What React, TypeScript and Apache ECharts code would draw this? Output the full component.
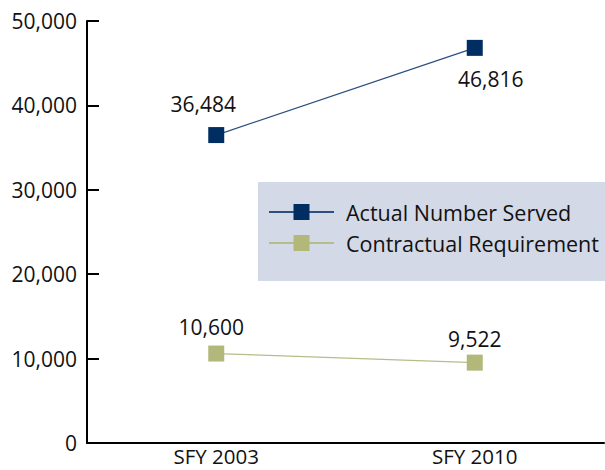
import React, { useEffect, useRef } from "react";
import * as echarts from "echarts";

const categories = ["SFY 2003", "SFY 2010"];
const actualServed = [36484, 46816];
const contractual = [10600, 9522];
const seriesNames = ["Actual Number Served", "Contractual Requirement"];
const yTicks = [0, 10000, 20000, 30000, 40000, 50000];

// label placement (styling, not data)
const actualLabelOffsets = [[-13, -31], [16, 31]];
const contractLabelOffsets = [[-5, -27], [0, -24]];

const FONT = "'Open Sans', 'Noto Sans', sans-serif";
const fmt = (v: number) => v.toLocaleString("en-US");

export default function App() {
  const ref = useRef<HTMLDivElement>(null);
  useEffect(() => {
    if (!ref.current) return;
    const chart = echarts.init(ref.current, undefined, { renderer: "svg" });
    const mk = (vals: number[], offs: number[][]) =>
      vals.map((v, i) => ({
        value: v,
        label: { offset: offs[i] },
      }));
    const labelStyle = {
      show: true,
      position: "inside",
      fontFamily: FONT,
      fontSize: 21,
      color: "#111",
      formatter: (p: any) => fmt(p.value),
    };
    chart.setOption({
      animation: false,
      textStyle: { fontFamily: FONT },
      grid: { left: 87, right: 1, top: 21, bottom: 27, containLabel: false },
      graphic: [
        {
          type: "rect",
          left: 258,
          top: 182,
          shape: { width: 347, height: 99 },
          style: { fill: "#d3d9e6" },
          z: 0,
          silent: true,
        },
      ],
      legend: {
        orient: "vertical",
        left: 268,
        top: 201,
        padding: 0,
        itemWidth: 65,
        itemHeight: 20,
        itemGap: 9,
        textStyle: {
          fontFamily: FONT,
          fontSize: 21.5,
          color: "#111",
          lineHeight: 22,
          padding: [0, 0, 0, 7],
        },
        data: seriesNames,
        z: 5,
      },
      xAxis: {
        type: "category",
        data: categories,
        boundaryGap: true,
        axisLine: { lineStyle: { color: "#000", width: 2 } },
        axisTick: { inside: true, length: 10, lineStyle: { color: "#000", width: 2 } },
        axisLabel: {
          fontFamily: FONT,
          fontSize: 20.5,
          color: "#111",
          margin: 5,
          lineHeight: 16,
        },
      },
      yAxis: {
        type: "value",
        min: yTicks[0],
        max: yTicks[yTicks.length - 1],
        interval: 10000,
        splitLine: { show: false },
        axisLine: { show: true, lineStyle: { color: "#000", width: 2 } },
        axisTick: { show: true, inside: true, length: 12, lineStyle: { color: "#000", width: 2 } },
        axisLabel: {
          fontFamily: FONT,
          fontSize: 21,
          color: "#111",
          margin: 10,
          formatter: (v: number) => fmt(v),
        },
      },
      series: [
        {
          name: seriesNames[0],
          type: "line",
          data: mk(actualServed, actualLabelOffsets),
          symbol: "rect",
          symbolSize: 16,
          itemStyle: { color: "#002d62" },
          lineStyle: { color: "#2c4f80", width: 1.2 },
          label: labelStyle,
          z: 3,
        },
        {
          name: seriesNames[1],
          type: "line",
          data: mk(contractual, contractLabelOffsets),
          symbol: "rect",
          symbolSize: 16,
          itemStyle: { color: "#b1b87a" },
          lineStyle: { color: "#b5bd8a", width: 1.2 },
          label: labelStyle,
          z: 3,
        },
      ],
    });
    return () => chart.dispose();
  }, []);
  return <div ref={ref} style={{ width: 605, height: 470, position: "absolute", left: 0, top: 0 }} />;
}
